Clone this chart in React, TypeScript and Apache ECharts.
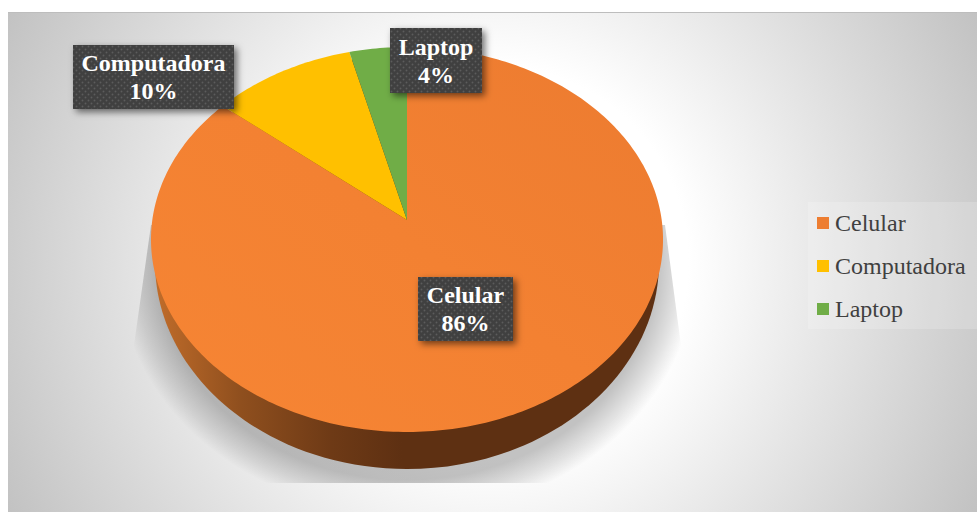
import React, { useEffect, useRef } from "react";
import * as echarts from "echarts";

const categories = ["Celular", "Computadora", "Laptop"];
const percentages = [86, 10, 4];
const sliceColors = ["#ed7d31", "#ffc000", "#70ad47"];

const W = 977;
const H = 512;
const SERIF = '"Liberation Serif", "Times New Roman", serif';

// Tilted disc: a unit circle seen in perspective, so the centre sits above the ellipse middle.
const APEX = { x: 407, y: 220 };
const TILT = 0.1013;
const SPREAD_X = 254.7;
const SPREAD_Y = 190.5;
const TAU = Math.PI * 2;

function project(fraction: number): number[] {
  const a = fraction * TAU;
  const u = Math.sin(a);
  const v = Math.cos(a);
  const d = 1 + TILT * v;
  return [APEX.x + (SPREAD_X * u) / d, APEX.y - (SPREAD_Y * v) / d];
}

function slicePoints(startShare: number, share: number): number[][] {
  const steps = Math.max(8, Math.ceil(share * 360));
  const pts: number[][] = [[APEX.x, APEX.y]];
  for (let i = 0; i <= steps; i++) pts.push(project(startShare + (share * i) / steps));
  return pts;
}

const total = percentages.reduce((s, v) => s + v, 0);

// Label plates, as left/top/width/height for each category.
const plates = [
  [418, 277, 95, 64],
  [73, 45, 161, 64],
  [390, 28, 92, 65],
];

function dottedTile(): HTMLCanvasElement {
  const c = document.createElement("canvas");
  c.width = 6;
  c.height = 6;
  const g = c.getContext("2d")!;
  g.fillStyle = "#404040";
  g.fillRect(0, 0, 6, 6);
  g.fillStyle = "#5c5c5c";
  for (const [x, y] of [[1.5, 1.5], [4.5, 4.5]]) {
    g.beginPath();
    g.arc(x, y, 0.95, 0, TAU);
    g.fill();
  }
  return c;
}

function buildOption() {
  const { LinearGradient, RadialGradient } = echarts.graphic as any;
  const tile = dottedTile();

  const backdrop = new RadialGradient(
    492,
    262,
    545,
    [
      { offset: 0, color: "#ffffff" },
      { offset: 0.36, color: "#ffffff" },
      { offset: 1, color: "#c2c2c2" },
    ],
    true
  );

  // Soft cast shadow: a circular gradient stretched to an ellipse by the element's scale.
  const shadowCy = 265;
  const shadowR = 290;
  const shadowScale = 250 / shadowR;
  const toLocal = (x: number, y: number) => [x - 407, (y - shadowCy) / shadowScale];
  const shadowFill = new RadialGradient(
    0,
    0,
    shadowR,
    [
      { offset: 0, color: "rgba(0,0,0,0.24)" },
      { offset: 0.86, color: "rgba(0,0,0,0.24)" },
      { offset: 0.94, color: "rgba(0,0,0,0.11)" },
      { offset: 1, color: "rgba(0,0,0,0)" },
    ],
    true
  );

  const wallFill = new LinearGradient(0, 0, 1, 0, [
    { offset: 0, color: "#c06c2a" },
    { offset: 0.17, color: "#8f4f1e" },
    { offset: 0.35, color: "#6e3a16" },
    { offset: 0.49, color: "#5e3012" },
    { offset: 1, color: "#5e3012" },
  ]);

  const graphic = [
    { type: "rect", silent: true, shape: { x: 8, y: 12, width: W - 8, height: H - 12 }, style: { fill: backdrop } },
    { type: "rect", silent: true, shape: { x: 8, y: 12, width: W - 8, height: 1 }, style: { fill: "#bdbdbd" } },
    {
      type: "polygon",
      silent: true,
      x: 407,
      y: shadowCy,
      scaleY: shadowScale,
      shape: {
        points: [
          toLocal(151, 225),
          toLocal(665, 225),
          toLocal(680, 338),
          toLocal(699, 483),
          toLocal(115, 483),
          toLocal(134, 345),
        ],
      },
      style: { fill: shadowFill },
    },
    {
      type: "ellipse",
      silent: true,
      shape: { cx: 407, cy: 262, rx: 252, ry: 207 },
      style: { fill: wallFill },
    },
    {
      type: "rect",
      silent: true,
      shape: { x: 808, y: 202, width: 169, height: 127 },
      style: { fill: "rgba(255,255,255,0.18)" },
    },
  ];

  const sliceSeries = categories.map((name, i) => {
    const before = percentages.slice(0, i).reduce((s, v) => s + v, 0);
    return {
      type: "custom",
      name,
      coordinateSystem: "none",
      silent: true,
      z: 3,
      itemStyle: { color: sliceColors[i] },
      data: [[percentages[i]]],
      renderItem: (_p: any, api: any) => ({
        type: "polygon",
        shape: { points: slicePoints(before / total, api.value(0) / total) },
        style: {
          fill:
            i === 0
              ? new LinearGradient(0, 1, 1, 0, [
                  { offset: 0, color: "#f68534" },
                  { offset: 0.5, color: "#f38132" },
                  { offset: 1, color: "#ec7b30" },
                ])
              : sliceColors[i],
        },
      }),
    };
  });

  const labelSeries = {
    type: "custom",
    name: "etiquetas",
    coordinateSystem: "none",
    silent: true,
    z: 5,
    data: categories.map((_, i) => [i, percentages[i]]),
    renderItem: (p: any, api: any) => {
      const i = api.value(0);
      const [x, y, w, h] = plates[i];
      return {
        type: "group",
        children: [
          {
            type: "rect",
            shape: { x, y, width: w, height: h },
            style: {
              fill: "#404040",
              shadowColor: "rgba(0,0,0,0.55)",
              shadowBlur: 7,
              shadowOffsetX: 3,
              shadowOffsetY: 3,
            },
          },
          {
            type: "rect",
            shape: { x, y, width: w, height: h },
            style: { fill: { image: tile, repeat: "repeat", imageWidth: 6, imageHeight: 6 } },
          },
          {
            type: "text",
            style: {
              x: x + w / 2,
              y: y + h / 2,
              text: `${categories[i]}\n${api.value(1)}%`,
              font: `bold 24px ${SERIF}`,
              lineHeight: 28,
              fill: "#ffffff",
              align: "center",
              verticalAlign: "middle",
            },
          },
        ],
      };
    },
  };

  return {
    animation: false,
    graphic,
    legend: {
      data: categories,
      orient: "vertical",
      left: 817,
      top: 211,
      padding: 0,
      itemWidth: 12,
      itemHeight: 12,
      itemGap: 19,
      icon: "rect",
      selectedMode: false,
      textStyle: { fontFamily: SERIF, fontSize: 24, color: "#404040", padding: [0, 0, 0, 1] },
    },
    series: [...sliceSeries, labelSeries],
  };
}

export default function App() {
  const ref = useRef<HTMLDivElement>(null);
  useEffect(() => {
    const chart = echarts.init(ref.current!, undefined, { renderer: "svg" });
    chart.setOption(buildOption() as any);
    return () => chart.dispose();
  }, []);
  return <div ref={ref} style={{ position: "absolute", left: 0, top: 0, width: W, height: H }} />;
}
